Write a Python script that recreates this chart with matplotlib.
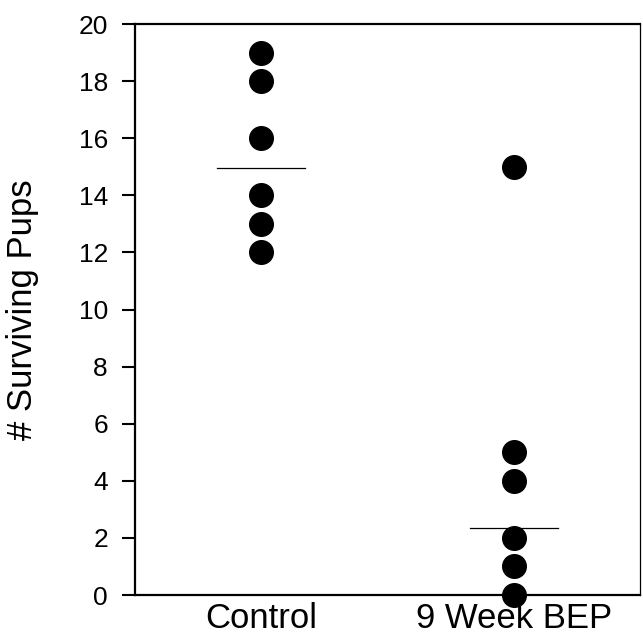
import matplotlib.pyplot as plt

plt.rcParams['font.family'] = ['Liberation Sans', 'DejaVu Sans']

groups = ["Control", "9 Week BEP"]
control = [19, 18, 16, 14, 13, 12]
bep = [15, 5, 4, 2, 1, 0]
group_lines = [14.95, 2.35]

fig = plt.figure(figsize=(6.43, 6.34), dpi=100)
ax = fig.add_axes([0.21, 0.0615, 0.7853, 0.9005])

for i, vals in enumerate([control, bep]):
    ax.plot([i + 1] * len(vals), vals, 'o', color='black', markersize=17,
            clip_on=False, zorder=5)
    ax.plot([i + 1 - 0.175, i + 1 + 0.175], [group_lines[i]] * 2,
            color='black', lw=0.9, zorder=4)

ax.set_xlim(0.5, 2.5)
ax.set_ylim(0, 20)
ax.set_yticks(range(0, 21, 2))
ax.set_xticks([1, 2])
ax.set_xticklabels(groups, fontsize=25)
ax.tick_params(axis='x', length=0, pad=5)
ax.tick_params(axis='y', length=9.5, width=1.5, labelsize=19, pad=10)
ax.set_ylabel("# Surviving Pups", fontsize=25)
ax.yaxis.set_label_coords(-0.19, 0.5)

for s in ['left', 'top', 'bottom']:
    ax.spines[s].set_linewidth(1.6)
ax.spines['right'].set_linewidth(0.9)

fig.savefig('out.png', dpi=100)
